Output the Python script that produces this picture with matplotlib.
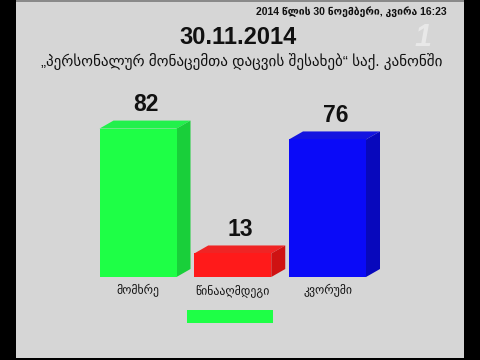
import matplotlib
matplotlib.use("Agg")
import matplotlib.pyplot as plt
from matplotlib.patches import Rectangle, Polygon, Patch
from matplotlib.transforms import IdentityTransform

# ---- data ----
categories = ["მომხრე", "წინააღმდეგი", "კვორუმი"]
values = [82, 13, 76]
front_colors = ["#1EFF46", "#FF1A1A", "#0A0AF8"]
side_colors = ["#19CF3A", "#CF1212", "#0808BC"]
top_colors = ["#22F04C", "#F02424", "#1414E0"]
date_title = "30.11.2014"
subtitle = "„პერსონალურ მონაცემთა დაცვის შესახებ“ საქ. კანონში"
timestamp = "2014 წლის 30 ნოემბერი, კვირა 16:23"

W, H = 480, 360
DPI = 100
fam = ["Liberation Sans", "DejaVu Sans"]
plt.rcParams["font.family"] = fam

fig = plt.figure(figsize=(W / DPI, H / DPI), dpi=DPI, facecolor="black")

# gray panel (TV frame)
fig.patches.append(Rectangle((16 / W, 2 / H), 448 / W, 357 / H, transform=fig.transFigure,
                             facecolor="#D6D6D6", edgecolor="none", zorder=-2))
fig.patches.append(Rectangle((16 / W, 358 / H), 448 / W, 2 / H, transform=fig.transFigure,
                             facecolor="#8A8A8A", edgecolor="none", zorder=-2))

def px(x, y_top):
    return x / W, 1 - y_top / H

# texts
fig.text(*px(447, 12), timestamp, ha="right", va="center", fontsize=7.5,
         fontweight="bold", color="#111111")
fig.text(*px(238, 38), date_title, ha="center", va="center", fontsize=17,
         fontweight="bold", color="#111111")
fig.text(*px(242, 62), subtitle, ha="center", va="center", fontsize=10.9,
         color="#111111")
fig.text(*px(423, 38), "1", ha="center", va="center", fontsize=22, fontweight="bold",
         fontstyle="italic", color="white", alpha=0.45)

# bar axes
spacing = 94.75
ax_left = 138 - 0.5 * spacing
ax_w = 3 * spacing
ax_bottom = H - 277
ax_h = 181
ax = fig.add_axes([ax_left / W, ax_bottom / H, ax_w / W, ax_h / H])
ax.set_zorder(1)
ax.set_facecolor("none")
ax.set_xlim(-0.5, 2.5)
ax.set_ylim(0, 100)
for s in ax.spines.values():
    s.set_visible(False)

width = 77 / spacing
xs = list(range(len(categories)))
ax.bar(xs, values, width=width, color=front_colors, zorder=3)
fig.canvas.draw()

dx, dy = 14, 8
for i, (x, v) in enumerate(zip(xs, values)):
    x0, x1 = x - width / 2, x + width / 2
    (p0x, p0y), (p1x, p1y), (bx, by) = ax.transData.transform([(x0, v), (x1, v), (x1, 0)])
    top = Polygon([(p0x, p0y), (p1x, p1y), (p1x + dx, p1y + dy), (p0x + dx, p0y + dy)],
                  closed=True, transform=IdentityTransform(), facecolor=top_colors[i],
                  edgecolor="none", zorder=2, clip_on=False)
    side = Polygon([(bx, by), (p1x, p1y), (p1x + dx, p1y + dy), (bx + dx, by + dy)],
                   closed=True, transform=IdentityTransform(), facecolor=side_colors[i],
                   edgecolor="none", zorder=2, clip_on=False)
    ax.add_artist(top)
    ax.add_artist(side)
    ax.annotate(str(v), xy=(x, v), xytext=(8, 24), textcoords="offset pixels",
                ha="center", va="center", fontsize=16.5, fontweight="bold", color="#111111",
                annotation_clip=False)

ax.set_yticks([])
ax.set_xticks(xs)
ax.set_xticklabels(categories, fontsize=8.5, color="#111111")
ax.tick_params(axis="x", length=0, pad=5)

# legend swatch
fig.legend(handles=[Patch(facecolor="#1EFF46", edgecolor="none")], labels=[""],
           loc="center", bbox_to_anchor=px(230, 317.5), frameon=False,
           handlelength=6.2, handleheight=1.05, handletextpad=0, borderpad=0,
           borderaxespad=0, fontsize=10)

fig.savefig("out.png", dpi=DPI, facecolor="black")
